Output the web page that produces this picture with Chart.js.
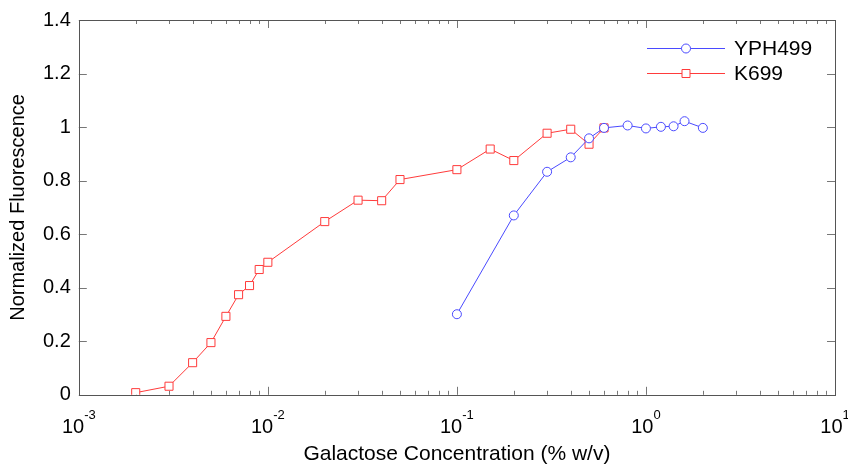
<!DOCTYPE html>
<html>
<head>
<meta charset="utf-8">
<script src="https://cdn.jsdelivr.net/npm/chart.js@4.4.1/dist/chart.umd.min.js"></script>
<style>
    html, body { margin: 0; padding: 0; background: #fff; }
    #wrap { width: 848px; height: 467px; }
</style>
</head>
<body>
<div id="wrap"><canvas id="grafico"></canvas></div>
<script>
// ===== DADOS =====
const conc_yph  = [0.1, 0.2, 0.3, 0.4, 0.5, 0.6, 0.8, 1.0, 1.2, 1.4, 1.6, 2.0];
const fluor_yph = [0.301, 0.670, 0.833, 0.887, 0.958, 0.997, 1.006, 0.995, 1.001, 1.003, 1.022, 0.997];

const conc_k699  = [0.002, 0.003, 0.004, 0.005, 0.006, 0.007, 0.008, 0.009, 0.01, 0.02, 0.03, 0.04, 0.05, 0.1, 0.15, 0.2, 0.3, 0.4, 0.5, 0.6];
const fluor_k699 = [0.008, 0.032, 0.12, 0.195, 0.293, 0.374, 0.408, 0.468, 0.495, 0.647, 0.727, 0.725, 0.804, 0.841, 0.918, 0.875, 0.977, 0.992, 0.936, 0.997];

const X_DECADAS = [-3, -2, -1, 0, 1];
const Y_TICKS   = [0, 0.2, 0.4, 0.6, 0.8, 1, 1.2, 1.4];

const AZUL     = '#4a4aff';
const VERMELHO = '#ff3b3b';
const FONTE    = '"Liberation Sans", Arial, sans-serif';

// ===== PLUGIN: moldura, ticks internos, rótulos 10^n, legenda =====
const molduraPlugin = {
    id: 'moldura',
    beforeDatasetsDraw(chart) {
        const { ctx, chartArea: a, scales: { x, y } } = chart;
        ctx.save();
        ctx.strokeStyle = '#777';
        ctx.lineWidth = 1;
        ctx.beginPath();
        // ticks x (maiores e menores), em baixo e em cima
        for (let d = -3; d <= 1; d++) {
            for (let m = 1; m <= (d === 1 ? 1 : 9); m++) {
                const px = Math.round(x.getPixelForValue(m * Math.pow(10, d))) + 0.5;
                const len = m === 1 ? 8 : 4;
                ctx.moveTo(px, a.bottom); ctx.lineTo(px, a.bottom - len);
                ctx.moveTo(px, a.top);    ctx.lineTo(px, a.top + len);
            }
        }
        // ticks y, esquerda e direita
        Y_TICKS.forEach(v => {
            const py = Math.round(y.getPixelForValue(v)) + 0.5;
            ctx.moveTo(a.left, py);  ctx.lineTo(a.left + 8, py);
            ctx.moveTo(a.right, py); ctx.lineTo(a.right - 8, py);
        });
        ctx.stroke();
        // moldura
        ctx.strokeStyle = '#555';
        ctx.strokeRect(Math.round(a.left) + 0.5, Math.round(a.top) + 0.5,
                       Math.round(a.right - a.left), Math.round(a.bottom - a.top));
        ctx.restore();
    },
    afterDraw(chart) {
        const { ctx, chartArea: a, scales: { x } } = chart;
        ctx.save();
        ctx.fillStyle = '#000';
        ctx.textBaseline = 'alphabetic';
        ctx.textAlign = 'left';
        // rótulos 10^n
        X_DECADAS.forEach(d => {
            const px = x.getPixelForValue(Math.pow(10, d));
            const base = '10', exp = String(d);
            ctx.font = '20px ' + FONTE;
            const w1 = ctx.measureText(base).width;
            ctx.font = '13px ' + FONTE;
            const w2 = ctx.measureText(exp).width;
            const x0 = px - (w1 + w2) / 2;
            ctx.font = '20px ' + FONTE;
            ctx.fillText(base, x0, a.bottom + 38);
            ctx.font = '13px ' + FONTE;
            ctx.fillText(exp, x0 + w1, a.bottom + 24);
        });
        // legenda
        const linhas = [48, 73];
        chart.data.datasets.forEach((ds, i) => {
            const ly = linhas[i] + 0.5;
            ctx.strokeStyle = ds.borderColor;
            ctx.lineWidth = 1;
            ctx.beginPath();
            ctx.moveTo(647, ly); ctx.lineTo(725, ly);
            ctx.stroke();
            ctx.fillStyle = '#fff';
            ctx.beginPath();
            if (ds.pointStyle === 'circle') {
                ctx.arc(686, ly, 4.5, 0, Math.PI * 2);
            } else {
                ctx.rect(682, ly - 4, 8, 8);
            }
            ctx.fill();
            ctx.stroke();
            ctx.fillStyle = '#000';
            ctx.font = '21px ' + FONTE;
            ctx.textBaseline = 'middle';
            ctx.fillText(ds.label, 734, linhas[i] + 1);
        });
        ctx.restore();
    }
};

// ===== GRÁFICO =====
const ctx = document.getElementById('grafico').getContext('2d');
new Chart(ctx, {
    type: 'line',
    data: {
        datasets: [
            {
                label: 'YPH499',
                data: conc_yph.map((c, i) => ({ x: c, y: fluor_yph[i] })),
                borderColor: AZUL,
                backgroundColor: '#fff',
                borderWidth: 1,
                pointStyle: 'circle',
                pointRadius: 4.5,
                pointBorderWidth: 1,
                pointBackgroundColor: '#fff',
                pointBorderColor: AZUL,
                tension: 0,
            },
            {
                label: 'K699',
                data: conc_k699.map((c, i) => ({ x: c, y: fluor_k699[i] })),
                borderColor: VERMELHO,
                backgroundColor: '#fff',
                borderWidth: 1,
                pointStyle: 'rect',
                pointRadius: 5.7,
                pointBorderWidth: 1,
                pointBackgroundColor: '#fff',
                pointBorderColor: VERMELHO,
                tension: 0,
            }
        ]
    },
    options: {
        responsive: true,
        maintainAspectRatio: false,
        animation: false,
        layout: { padding: { top: 3, right: 13, bottom: 0, left: 0 } },
        plugins: {
            legend: { display: false },
            tooltip: { enabled: false }
        },
        scales: {
            x: {
                type: 'logarithmic',
                min: 0.001,
                max: 10,
                grid: { display: false, drawTicks: false },
                border: { display: false },
                ticks: { display: false },
                title: {
                    display: true,
                    text: 'Galactose Concentration (% w/v)',
                    color: '#000',
                    font: { family: FONTE, size: 21 },
                    padding: { top: 47, bottom: 0 }
                }
            },
            y: {
                min: 0,
                max: 1.4,
                afterBuildTicks: axis => { axis.ticks = Y_TICKS.map(v => ({ value: v })); },
                grid: { display: false, drawTicks: false },
                border: { display: false },
                ticks: {
                    color: '#000',
                    padding: 8,
                    font: { family: FONTE, size: 20 },
                    callback: v => String(Math.round(v * 10) / 10)
                },
                title: {
                    display: true,
                    text: 'Normalized Fluorescence',
                    color: '#000',
                    font: { family: FONTE, size: 20 },
                    padding: { top: 6, bottom: 5 }
                }
            }
        }
    },
    plugins: [molduraPlugin]
});
</script>
</body>
</html>
